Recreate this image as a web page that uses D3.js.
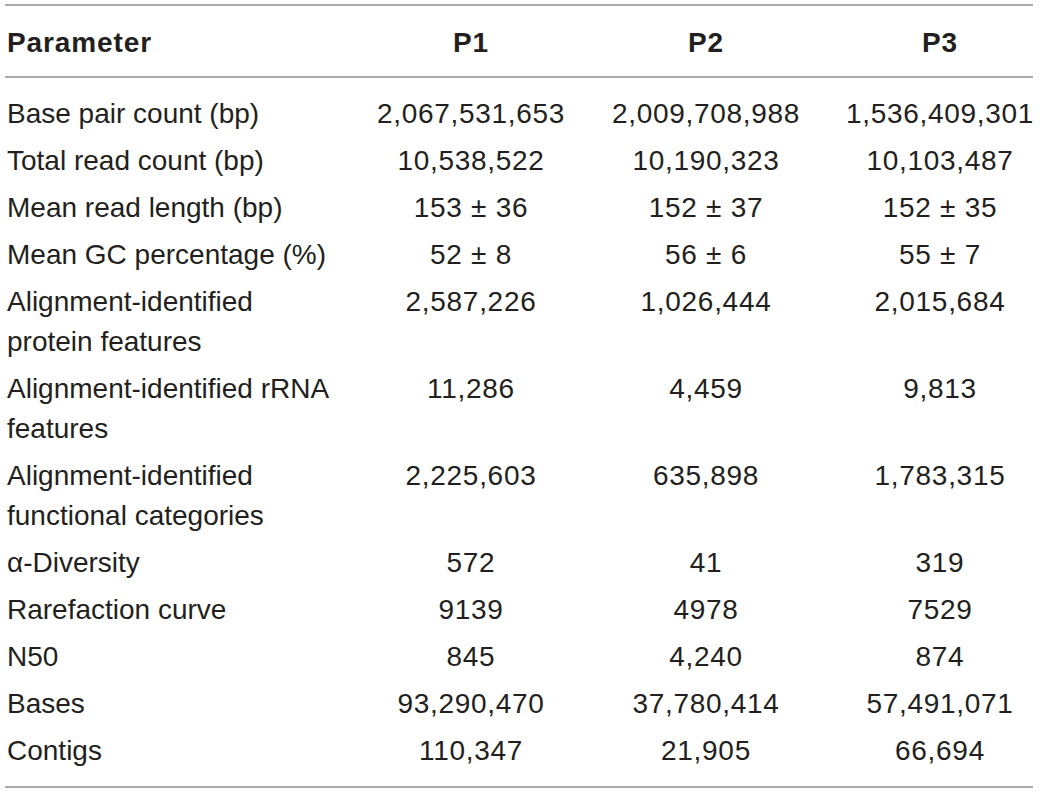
<!DOCTYPE html>
<html>
<head>
<meta charset="utf-8">
<script src="https://cdn.jsdelivr.net/npm/d3@7/dist/d3.min.js"></script>
<style>
  html, body { margin: 0; padding: 0; background: #ffffff; }
  svg { display: block; }
</style>
</head>
<body>
<svg id="chart" width="1040" height="793"></svg>
<script>
// ---- data ----
const headers = ["Parameter", "P1", "P2", "P3"];
const parameters = [
  ["Base pair count (bp)"],
  ["Total read count (bp)"],
  ["Mean read length (bp)"],
  ["Mean GC percentage (%)"],
  ["Alignment-identified", "protein features"],
  ["Alignment-identified rRNA", "features"],
  ["Alignment-identified", "functional categories"],
  ["\u03b1-Diversity"],
  ["Rarefaction curve"],
  ["N50"],
  ["Bases"],
  ["Contigs"]
];
const p1 = ["2,067,531,653", "10,538,522", "153 \u00b1 36", "52 \u00b1 8", "2,587,226", "11,286", "2,225,603", "572", "9139", "845", "93,290,470", "110,347"];
const p2 = ["2,009,708,988", "10,190,323", "152 \u00b1 37", "56 \u00b1 6", "1,026,444", "4,459", "635,898", "41", "4978", "4,240", "37,780,414", "21,905"];
const p3 = ["1,536,409,301", "10,103,487", "152 \u00b1 35", "55 \u00b1 7", "2,015,684", "9,813", "1,783,315", "319", "7529", "874", "57,491,071", "66,694"];

// ---- layout ----
const textColor = "#231f20";
const ruleColor = "#a8a8a8";
const fontFamily = "'Liberation Sans', Arial, Helvetica, sans-serif";
const fontSize = 28;
const rowStep = 47, lineStep = 40;
const firstBaseline = 123;

const svg = d3.select("#chart");

// column x positions via ordinal scale
const colX = d3.scaleOrdinal().domain(headers).range([7, 471, 706, 940]);
const colAnchor = d3.scaleOrdinal().domain(headers).range(["start", "middle", "middle", "middle"]);

// row baselines
const rowUnits = [];
let acc = 0;
parameters.forEach(lines => { rowUnits.push(acc); acc += rowStep + lineStep * (lines.length - 1); });
const yRow = d3.scaleLinear().domain([0, 1]).range([firstBaseline, firstBaseline + 1]);

// rules
const rules = [5, 77, 787];
svg.selectAll("line.rule").data(rules).enter().append("line")
  .attr("class", "rule")
  .attr("x1", 5).attr("x2", 1033)
  .attr("y1", d => d).attr("y2", d => d)
  .attr("stroke", ruleColor).attr("stroke-width", 2);

// header
svg.selectAll("text.hdr").data(headers).enter().append("text")
  .attr("class", "hdr")
  .attr("x", d => colX(d))
  .attr("y", 52)
  .attr("text-anchor", d => colAnchor(d))
  .attr("font-family", fontFamily)
  .attr("font-size", fontSize)
  .attr("font-weight", "bold")
  .attr("letter-spacing", 0.9)
  .attr("fill", textColor)
  .text(d => d);

// body rows
const rows = parameters.map((lines, i) => ({ lines, vals: [p1[i], p2[i], p3[i]], y: yRow(rowUnits[i]) }));
const g = svg.selectAll("g.row").data(rows).enter().append("g").attr("class", "row");

g.each(function(d) {
  const sel = d3.select(this);
  d.lines.forEach((ln, k) => {
    sel.append("text")
      .attr("x", colX("Parameter"))
      .attr("y", d.y + k * lineStep)
      .attr("font-family", fontFamily)
      .attr("font-size", fontSize)
      .attr("fill", textColor)
      .text(ln);
  });
  d.vals.forEach((v, j) => {
    sel.append("text")
      .attr("x", colX(headers[j + 1]))
      .attr("y", d.y)
      .attr("text-anchor", "middle")
      .attr("font-family", fontFamily)
      .attr("font-size", fontSize)
      .attr("letter-spacing", 0.7)
      .attr("fill", textColor)
      .text(v);
  });
});
</script>
</body>
</html>
